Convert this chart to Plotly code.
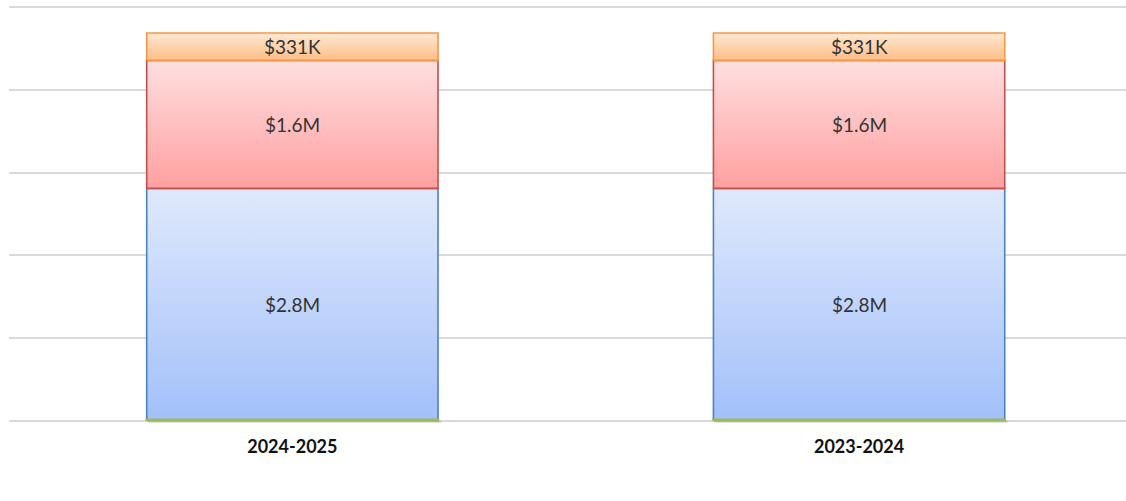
import plotly.graph_objects as go

categories = ["2024-2025", "2023-2024"]
series_names = ["Other", "Blue segment", "Red segment", "Orange segment"]
green_vals = [0.01, 0.01]
blue_vals = [2.80, 2.80]
red_vals = [1.55, 1.55]
orange_vals = [0.331, 0.331]
labels_blue = ["$2.8M", "$2.8M"]
labels_red = ["$1.6M", "$1.6M"]
labels_orange = ["$331K", "$331K"]

series = [
    (green_vals, None, "#9bbb59", "#d7e4bd", "#b9d38a", 2.6),
    (blue_vals, labels_blue, "#4f81bd", "#dfe9fc", "#a3c0fa", 1.6),
    (red_vals, labels_red, "#c0504d", "#ffdfe0", "#ffa0a0", 1.6),
    (orange_vals, labels_orange, "#f79646", "#ffe9d3", "#fdbd86", 1.6),
]

BAR_W = 0.514
fig = go.Figure()

# soft shadow beneath bars
for i, cat in enumerate(categories):
    x0, x1 = i - BAR_W / 2, i + BAR_W / 2
    fig.add_trace(go.Scatter(
        x=[x0 + 0.004, x1 + 0.006, x1 + 0.006, x0 + 0.004, x0 + 0.004],
        y=[-0.07, -0.07, 0.0, 0.0, -0.07],
        fill="toself", fillcolor="rgba(120,120,120,0.2)",
        line=dict(width=0), mode="lines", hoverinfo="skip", showlegend=False))

for i, cat in enumerate(categories):
    base = 0.0
    x0, x1 = i - BAR_W / 2, i + BAR_W / 2
    segs = []
    for (vals, labs, edge, top_c, bot_c, lw), name in zip(series, series_names):
        v = vals[i]
        segs.append((base, base + v, labs, edge, top_c, bot_c, lw, name))
        base += v
    # draw bottom (green) segment last so its edge stays visible
    for y0, y1, labs, edge, top_c, bot_c, lw, name in segs[1:] + segs[:1]:
        fig.add_trace(go.Scatter(
            x=[x0, x1, x1, x0, x0],
            y=[y0, y0, y1, y1, y0],
            fill="toself",
            fillgradient=dict(type="vertical", start=y0, stop=y1,
                              colorscale=[[0, bot_c], [1, top_c]]),
            line=dict(color=edge, width=lw),
            mode="lines", name=name, showlegend=False, hoverinfo="skip"))
        if labs:
            fig.add_annotation(x=i, y=(y0 + y1) / 2, text=labs[i], showarrow=False,
                               font=dict(family="Lato, Carlito, sans-serif", size=19, color="#333333"))

fig.update_layout(
    width=1126, height=501,
    margin=dict(l=9, r=0, t=5, b=77.5),
    paper_bgcolor="white", plot_bgcolor="white",
    xaxis=dict(range=[-0.5, 1.471], tickvals=list(range(len(categories))), ticktext=categories,
               showgrid=False, zeroline=False, showline=False, ticks="",
               ticklabelstandoff=11,
               tickfont=dict(family="Lato, sans-serif", size=18, color="#111111", weight="bold")),
    yaxis=dict(range=[-0.03, 5.03], tickvals=[0, 1, 2, 3, 4, 5], showgrid=True,
               gridcolor="#d9d9d9", gridwidth=1.5, zeroline=False,
               showticklabels=False, ticks=""),
)
fig.write_html("out.html", config={"displayModeBar": False},
               post_script="document.body.style.margin='0';")
